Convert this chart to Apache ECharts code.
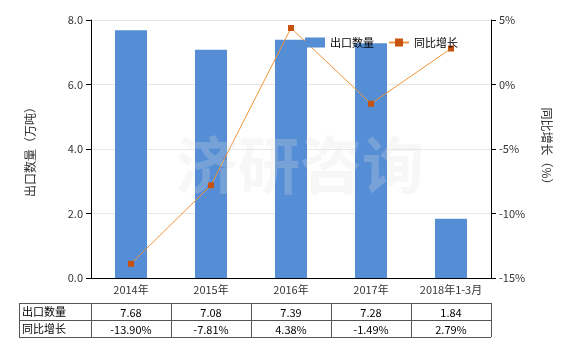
<!DOCTYPE html>
<html><head><meta charset="utf-8">
<script src="https://cdn.jsdelivr.net/npm/echarts@6/dist/echarts.min.js"></script>
<style>html,body{margin:0;padding:0;background:#fff}#c{width:580px;height:350px}</style>
</head><body><div id="c"></div>
<script>
var categories = ['2014年','2015年','2016年','2017年','2018年1-3月'];
var exportQty = [7.68, 7.08, 7.39, 7.28, 1.84];
var yoyGrowth = [-13.90, -7.81, 4.38, -1.49, 2.79];
var qtyLabels = ['7.68','7.08','7.39','7.28','1.84'];
var yoyLabels = ['-13.90%','-7.81%','4.38%','-1.49%','2.79%'];
var leftTicks = {min:0, max:8, interval:2};
var rightTicks = {min:-15, max:5, interval:5};

var chart = echarts.init(document.getElementById('c'));
var gl = 91, gr = 580-491, gt = 20, gb = 350-278;
var font = 'Microsoft YaHei, "Noto Sans CJK SC", sans-serif';
var txt = '#333';

var graphics = [];
var tLeft = 19, tRight = 491, tTop = 303, rowH = 17;
var colW = (tRight - gl) / categories.length;
function line(x1,y1,x2,y2){ graphics.push({type:'line',shape:{x1:x1,y1:y1,x2:x2,y2:y2},style:{stroke:'#555',lineWidth:1}}); }
for (var r=0;r<=2;r++) line(tLeft, tTop+r*rowH+0.5, tRight, tTop+r*rowH+0.5);
line(tLeft+0.5, tTop, tLeft+0.5, tTop+2*rowH);
for (var c=0;c<=categories.length;c++){ var x=Math.round(gl+c*colW)+0.5; line(x,tTop,x,tTop+2*rowH); }
var rowNames = ['出口数量','同比增长'];
var rowVals = [qtyLabels, yoyLabels];
for (var r=0;r<2;r++){
  graphics.push({type:'text',x:tLeft+3,y:tTop+r*rowH+rowH/2,style:{text:rowNames[r],fill:'#000',font:'11px '+font,textVerticalAlign:'middle',textAlign:'left'}});
  for (var c=0;c<categories.length;c++){
    graphics.push({type:'text',x:gl+(c+0.5)*colW,y:tTop+r*rowH+rowH/2+1,style:{text:rowVals[r][c],fill:'#000',font:'11px '+font,textVerticalAlign:'middle',textAlign:'center'}});
  }
}
graphics.push({type:'text',x:300,y:165,style:{text:'济研咨询',fill:'rgba(225,225,225,0.25)',font:'bold 62px '+font,textAlign:'center',textVerticalAlign:'middle'},z:100, silent:true});

chart.setOption({
  animation:false,
  textStyle:{fontFamily:font},
  grid:{left:gl,right:gr,top:gt,bottom:gb},
  legend:{
    top:32,left:300,itemGap:14,itemWidth:20,itemHeight:10,
    textStyle:{fontSize:11,color:'#000',fontFamily:font},
    data:[{name:'出口数量',icon:'rect'},{name:'同比增长'}]
  },
  xAxis:{type:'category',data:categories,
    axisLine:{lineStyle:{color:'#000'}},
    axisTick:{alignWithLabel:true,lineStyle:{color:'#000'}},
    axisLabel:{color:txt,fontSize:11,margin:6,interval:0}
  },
  yAxis:[
    {type:'value',min:leftTicks.min,max:leftTicks.max,interval:leftTicks.interval,
     name:'出口数量（万吨）',nameLocation:'middle',nameGap:55,nameRotate:90,
     nameTextStyle:{color:txt,fontSize:12},
     axisLine:{show:true,lineStyle:{color:'#000'}},axisTick:{show:true,lineStyle:{color:'#000'}},
     axisLabel:{color:txt,fontSize:11,formatter:function(v){return v.toFixed(1);}},
     splitLine:{lineStyle:{color:'#e8e8e8'}}},
    {type:'value',min:rightTicks.min,max:rightTicks.max,interval:rightTicks.interval,
     name:'同比增长（%）',nameLocation:'middle',nameGap:50,nameRotate:-90,
     nameTextStyle:{color:txt,fontSize:12},
     axisLine:{show:true,lineStyle:{color:'#000'}},axisTick:{show:true,lineStyle:{color:'#000'}},
     axisLabel:{color:txt,fontSize:11,formatter:'{value}%'},
     splitLine:{show:false}}
  ],
  series:[
    {name:'出口数量',type:'bar',data:exportQty,barWidth:32,itemStyle:{color:'#558ed5'}},
    {name:'同比增长',type:'line',yAxisIndex:1,data:yoyGrowth,symbol:'rect',symbolSize:6,
     itemStyle:{color:'#c5520f'},lineStyle:{color:'#f0943a',width:1}}
  ],
  graphic:graphics
});
</script></body></html>
